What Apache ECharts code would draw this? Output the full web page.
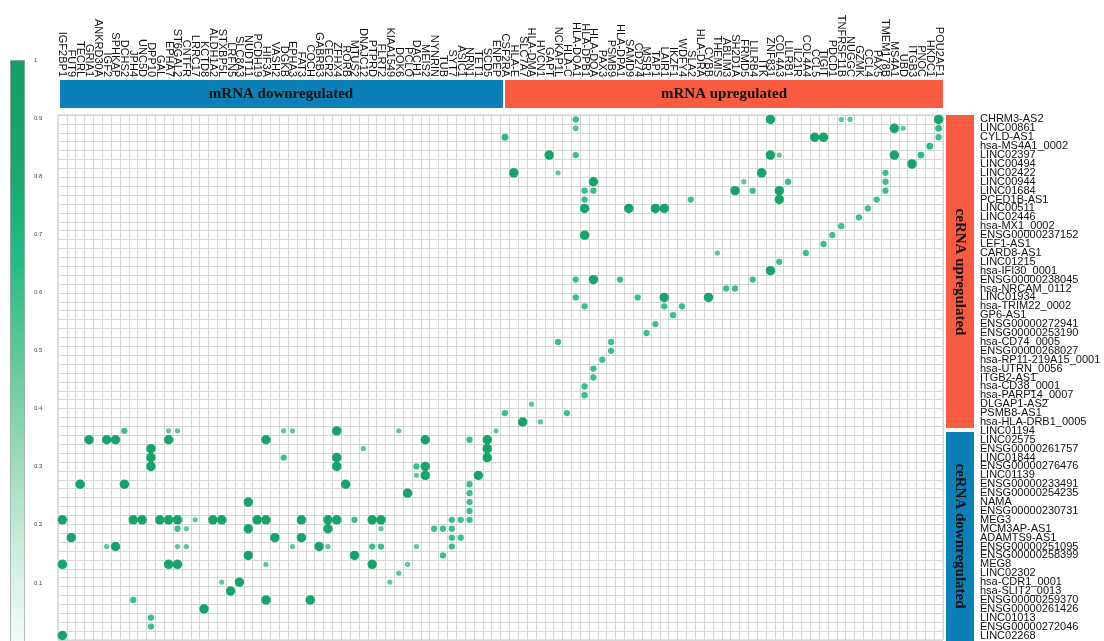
<!DOCTYPE html>
<html>
<head>
<meta charset="utf-8">
<script src="https://cdn.jsdelivr.net/npm/echarts@6/dist/echarts.min.js"></script>
<style>
  html, body { margin: 0; padding: 0; background: #fff; }
  #main { width: 1104px; height: 641px; }
</style>
</head>
<body>
<div id="main"></div>
<script>
// mRNA columns (left block: downregulated, right block: upregulated)
const mrnaDown = ['IGF2BP1', 'FUT9', 'TECRL', 'GRIA1', 'ANKRD30A', 'IGF2', 'SPHKAP', 'DCHS2', 'JPH4', 'UNC5D',
  'DPP10', 'GAL', 'EPHA7', 'ST6GAL2', 'CNTFR', 'LRRC17', 'KCTD8', 'ALDH1A2', 'STXBP5L', 'LRFN5',
  'SLC8A3', 'NUDT11', 'PCDH19', 'HIF3A', 'VASH2', 'DGKB', 'EPHA3', 'FAT3', 'COCH', 'GABRB3',
  'CECR2', 'ZFHX4', 'RORB', 'MTUS2', 'DNAJC12', 'PTPRD', 'FLRT2', 'KIAA1549', 'DOK6', 'PCLO',
  'DACH1', 'MEIS2', 'NYNRIN', 'TUB', 'SYT7', 'ASIC1', 'NRN1', 'TET1', 'SCD5', 'ENPEP']
const mrnaUp = ['CSF2RA', 'HLA-E', 'SLC7A7', 'HLA-DMA', 'HVCN1', 'GAPT', 'NCKAP1L', 'HLA-C', 'HLA-DQA1', 'HLA-DPB1',
  'HLA-DOA', 'PAX3', 'PSMB9', 'HLA-DPA1', 'SAMD9', 'CD274', 'MSR1', 'TAP1', 'LAIR1', 'IKZF1',
  'WDFY4', 'SLA2', 'HLA-DRA', 'CYBB', 'THEMIS', 'ABLIM3', 'SH2D1A', 'FRMD5', 'LILRB4', 'ITK',
  'ZNF831', 'COL4A3', 'LILRB1', 'IL21R', 'COL4A4', 'CCL5', 'TIGIT', 'PDCD1', 'TNFRSF11B', 'NUGGC',
  'GZMK', 'CCL4', 'PAX5', 'TMEM178B', 'MS4A1', 'UBD', 'ITGB3', 'PNOC', 'HKDC1', 'POU2AF1']

// ceRNA rows (top: upregulated, bottom: downregulated)
const cernaUp = ['CHRM3-AS2', 'LINC00861', 'CYLD-AS1', 'hsa-MS4A1_0002', 'LINC02397', 'LINC00494', 'LINC02422',
  'LINC00944', 'LINC01684', 'PCED1B-AS1', 'LINC00511', 'LINC02446', 'hsa-MX1_0002', 'ENSG00000237152',
  'LEF1-AS1', 'CARD8-AS1', 'LINC01215', 'hsa-IFI30_0001', 'ENSG00000238045', 'hsa-NRCAM_0112',
  'LINC01934', 'hsa-TRIM22_0002', 'GP6-AS1', 'ENSG00000272941', 'ENSG00000253190', 'hsa-CD74_0005',
  'ENSG00000268027', 'hsa-RP11-219A15_0001', 'hsa-UTRN_0056', 'ITGB2-AS1', 'hsa-CD38_0001',
  'hsa-PARP14_0007', 'DLGAP1-AS2', 'PSMB8-AS1', 'hsa-HLA-DRB1_0005']
const cernaDown = ['LINC01194', 'LINC02575', 'ENSG00000261757', 'LINC01844', 'ENSG00000276476', 'LINC01139',
  'ENSG00000233491', 'ENSG00000254235', 'NAMA', 'ENSG00000230731', 'MEG3', 'MCM3AP-AS1', 'ADAMTS9-AS1',
  'ENSG00000251095', 'ENSG00000258399', 'MEG8', 'LINC02302', 'hsa-CDR1_0001', 'hsa-SLIT2_0013',
  'ENSG00000259370', 'ENSG00000261426', 'LINC01013', 'ENSG00000272046', 'LINC02268']

const mrnaAll = mrnaDown.concat(mrnaUp)
const cernaAll = cernaUp.concat(cernaDown)

// colour bar ticks
const barTicks = [0, 0.1, 0.2, 0.3, 0.4, 0.5, 0.6, 0.7, 0.8, 0.9, 1]

// [mRNA column, ceRNA row, score]  -- upregulated pairs
const upLinks = [
  [58, 0, 0.6], [80, 0, 0.9], [88, 0, 0.5], [89, 0, 0.5], [99, 0, 0.9],
  [58, 1, 0.55], [94, 1, 0.9], [95, 1, 0.5], [99, 1, 0.65],
  [50, 2, 0.65], [85, 2, 0.9], [86, 2, 0.9], [99, 2, 0.6],
  [98, 3, 0.65],
  [55, 4, 0.9], [58, 4, 0.6], [80, 4, 0.9], [81, 4, 0.5], [94, 4, 0.9], [97, 4, 0.65],
  [96, 5, 0.9],
  [51, 6, 0.9], [56, 6, 0.5], [79, 6, 0.9], [93, 6, 0.6],
  [60, 7, 0.9], [77, 7, 0.5], [82, 7, 0.6], [93, 7, 0.6],
  [59, 8, 0.6], [60, 8, 0.6], [76, 8, 0.9], [78, 8, 0.6], [81, 8, 0.9], [93, 8, 0.6],
  [59, 9, 0.6], [71, 9, 0.6], [81, 9, 0.9], [92, 9, 0.6],
  [59, 10, 0.9], [64, 10, 0.9], [67, 10, 0.9], [68, 10, 0.9], [91, 10, 0.6],
  [90, 11, 0.6], [88, 12, 0.6], [59, 13, 0.9], [87, 13, 0.6], [86, 14, 0.6],
  [74, 15, 0.5], [84, 15, 0.6], [81, 16, 0.6], [80, 17, 0.9],
  [58, 18, 0.6], [60, 18, 0.9], [63, 18, 0.6], [78, 18, 0.6],
  [75, 19, 0.6], [76, 19, 0.6],
  [58, 20, 0.6], [65, 20, 0.6], [68, 20, 0.9], [73, 20, 0.9],
  [59, 21, 0.6], [68, 21, 0.6], [70, 21, 0.6],
  [69, 22, 0.6], [67, 23, 0.6], [66, 24, 0.6],
  [56, 25, 0.6], [62, 25, 0.6], [62, 26, 0.6], [61, 27, 0.6], [60, 28, 0.6], [60, 29, 0.6],
  [59, 30, 0.6], [59, 31, 0.6], [53, 32, 0.5], [50, 33, 0.6], [57, 33, 0.6],
  [52, 34, 0.9], [54, 34, 0.5]
]

// [mRNA column, ceRNA row, score]  -- downregulated pairs
const downLinks = [
  [7, 35, 0.6], [12, 35, 0.5], [13, 35, 0.5], [25, 35, 0.5], [26, 35, 0.5], [31, 35, 0.9], [38, 35, 0.5], [49, 35, 0.5],
  [3, 36, 0.9], [5, 36, 0.9], [6, 36, 0.9], [12, 36, 0.9], [23, 36, 0.9], [41, 36, 0.9], [46, 36, 0.6], [48, 36, 0.9],
  [10, 37, 0.9], [34, 37, 0.5], [48, 37, 0.9],
  [10, 38, 0.9], [25, 38, 0.6], [31, 38, 0.9], [48, 38, 0.9],
  [10, 39, 0.9], [31, 39, 0.9], [40, 39, 0.6], [41, 39, 0.9],
  [40, 40, 0.5], [41, 40, 0.9], [47, 40, 0.9],
  [2, 41, 0.9], [7, 41, 0.9], [32, 41, 0.9], [46, 41, 0.6],
  [39, 42, 0.9], [46, 42, 0.6],
  [21, 43, 0.9], [46, 43, 0.6],
  [46, 44, 0.6],
  [0, 45, 0.9], [8, 45, 0.9], [9, 45, 0.9], [11, 45, 0.9], [12, 45, 0.9], [13, 45, 0.9], [15, 45, 0.5],
  [17, 45, 0.9], [18, 45, 0.9], [22, 45, 0.9], [23, 45, 0.9], [27, 45, 0.9], [30, 45, 0.9], [31, 45, 0.9],
  [33, 45, 0.6], [35, 45, 0.9], [36, 45, 0.9], [44, 45, 0.6], [45, 45, 0.6], [46, 45, 0.6],
  [13, 46, 0.6], [14, 46, 0.5], [21, 46, 0.9], [30, 46, 0.9], [36, 46, 0.5], [42, 46, 0.6], [43, 46, 0.6], [44, 46, 0.6],
  [1, 47, 0.9], [24, 47, 0.9], [27, 47, 0.9], [44, 47, 0.6], [45, 47, 0.6],
  [5, 48, 0.5], [6, 48, 0.9], [13, 48, 0.5], [14, 48, 0.5], [26, 48, 0.5], [29, 48, 0.9], [30, 48, 0.5],
  [35, 48, 0.6], [36, 48, 0.6], [40, 48, 0.5], [44, 48, 0.6],
  [21, 49, 0.9], [33, 49, 0.9], [43, 49, 0.6],
  [0, 50, 0.9], [12, 50, 0.9], [13, 50, 0.9], [23, 50, 0.5], [35, 50, 0.9], [39, 50, 0.5],
  [38, 51, 0.5],
  [18, 52, 0.5], [20, 52, 0.9], [37, 52, 0.5],
  [19, 53, 0.9],
  [8, 54, 0.6], [23, 54, 0.9], [28, 54, 0.9],
  [16, 55, 0.9],
  [10, 56, 0.6],
  [10, 57, 0.6],
  [0, 58, 0.9]
]

const chart = echarts.init(document.getElementById('main'))

const font = 'Liberation Sans, Arial, sans-serif'
const blue = '#0b80b6'
const red = '#f95b40'
const bandFont = 'bold 15px "Liberation Serif", serif'

chart.setOption({
  backgroundColor: '#fff',
  animation: false,
  grid: [
    { left: 58, top: 115, width: 885, height: 526, show: true, borderColor: '#c8c8c8', borderWidth: 1 },
    // grid used only for the colour bar tick labels
    { left: 20, top: 60, width: 4, height: 585 }
  ],
  xAxis: [
    {
      type: 'category',
      gridIndex: 0,
      position: 'top',
      data: mrnaAll,
      axisLine: { show: false },
      axisTick: { show: false },
      axisLabel: {
        rotate: 90,
        interval: 0,
        margin: 38,
        fontSize: 11,
        fontFamily: font,
        color: '#111'
      },
      splitLine: { show: true, interval: 0, lineStyle: { color: '#d6d6d6', width: 1 } }
    },
    { type: 'value', gridIndex: 1, show: false }
  ],
  yAxis: [
    {
      type: 'category',
      gridIndex: 0,
      position: 'right',
      inverse: true,
      data: cernaAll,
      axisLine: { show: false },
      axisTick: { show: false },
      axisLabel: {
        interval: 0,
        margin: 37,
        fontSize: 11,
        fontFamily: font,
        color: '#111'
      },
      splitLine: { show: true, interval: 0, lineStyle: { color: '#d6d6d6', width: 1 } }
    },
    {
      type: 'value',
      gridIndex: 1,
      position: 'right',
      min: 0,
      max: 1,
      interval: 0.1,
      axisLine: { show: false },
      axisTick: { show: true, length: 3, lineStyle: { color: '#666' } },
      splitLine: { show: false },
      axisLabel: {
        margin: 10,
        fontSize: 6,
        fontFamily: font,
        color: '#444',
        formatter: function (v) {
          return barTicks.indexOf(+v.toFixed(1)) > 0 ? String(+v.toFixed(1)) : ''
        }
      }
    }
  ],
  visualMap: {
    type: 'continuous',
    seriesIndex: 0,
    dimension: 2,
    min: 0,
    max: 1,
    calculable: false,
    hoverLink: false,
    left: 10,
    top: 60,
    itemWidth: 14,
    itemHeight: 585,
    padding: 0,
    borderColor: '#9a9a9a',
    borderWidth: 1,
    text: null,
    inRange: {
      color: ['#f6fbf9', '#cbeddd', '#97d9ba', '#5cc89b', '#22bb83', '#17a66e', '#13a068']
    }
  },
  series: [
    {
      name: 'ceRNA-mRNA',
      type: 'scatter',
      xAxisIndex: 0,
      yAxisIndex: 0,
      data: upLinks.concat(downLinks),
      symbolSize: function (v) {
        return v[2] * 10.5
      },
      itemStyle: { opacity: 1 }
    }
  ],
  graphic: [
    { type: 'rect', shape: { x: 60, y: 80, width: 443, height: 28 }, style: { fill: blue } },
    { type: 'rect', shape: { x: 505, y: 80, width: 438, height: 28 }, style: { fill: red } },
    {
      type: 'text', x: 281, y: 94,
      style: { text: 'mRNA downregulated', fill: '#111', font: bandFont, align: 'center', verticalAlign: 'middle' }
    },
    {
      type: 'text', x: 724, y: 94,
      style: { text: 'mRNA upregulated', fill: '#111', font: bandFont, align: 'center', verticalAlign: 'middle' }
    },
    { type: 'rect', shape: { x: 946, y: 115, width: 28, height: 313 }, style: { fill: red } },
    { type: 'rect', shape: { x: 946, y: 432, width: 28, height: 215 }, style: { fill: blue } },
    {
      type: 'text', x: 960, y: 272, rotation: -Math.PI / 2,
      style: { text: 'ceRNA upregulated', fill: '#111', font: bandFont, align: 'center', verticalAlign: 'middle' }
    },
    {
      type: 'text', x: 960, y: 536, rotation: -Math.PI / 2,
      style: { text: 'ceRNA downregulated', fill: '#111', font: bandFont, align: 'center', verticalAlign: 'middle' }
    }
  ]
})
</script>
</body>
</html>
